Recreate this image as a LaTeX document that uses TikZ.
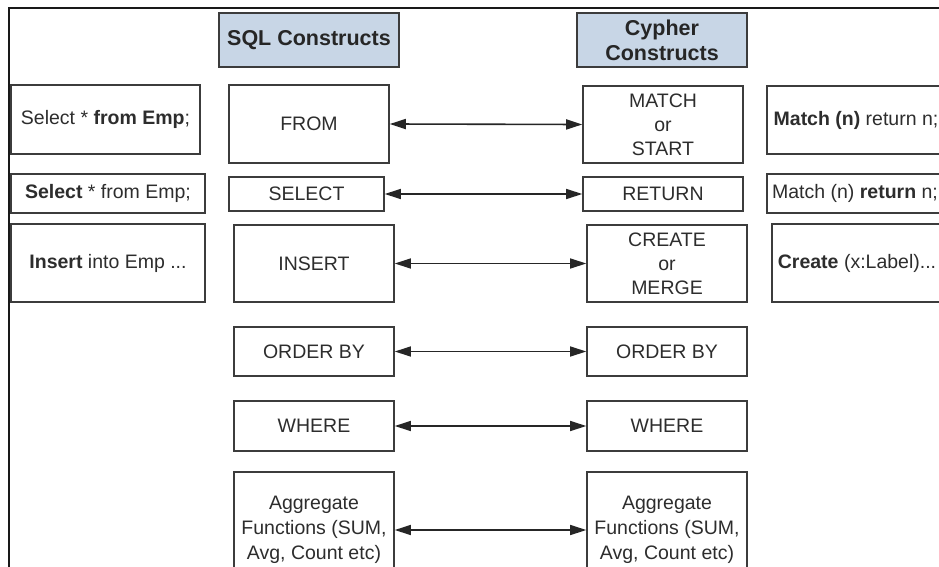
\documentclass[tikz,border=0pt]{standalone}
\usepackage{fontspec}
\setmainfont{Liberation Sans}
\usetikzlibrary{arrows.meta}
\definecolor{txt}{RGB}{45,45,45}
\definecolor{edge}{RGB}{60,60,60}
\definecolor{hdr}{RGB}{200,214,230}
\tikzset{
  box/.style={draw=edge, line width=1.6pt, rectangle, inner sep=2pt, text=txt,
    font=\fontsize{19.5}{24}\selectfont, align=center},
  hdrbox/.style={box, fill=hdr, font=\fontsize{21.5}{25}\selectfont\bfseries, text=black!85},
  aggbox/.style={box, inner sep=1pt, font=\fontsize{19.5}{25}\selectfont},
  conn/.style={draw=black!85, line width=1.6pt, {Triangle[length=16pt,width=10pt]}-{Triangle[length=16pt,width=10pt]}},
}
\begin{document}
\begin{tikzpicture}[x=1pt,y=-1pt]
\useasboundingbox (0,0) rectangle (939,567);
\clip (0,0) rectangle (939,567);
\fill[white] (0,0) rectangle (939,567);
% frame
\draw[line width=2pt, black!90] (8.5,580) -- (8.5,8.5) -- (950,8.5);
% headers
\node[hdrbox, minimum width=180, minimum height=54] (hsql) at (309,40) {SQL Constructs};
\node[hdrbox, minimum width=170, minimum height=54] (hcy) at (662,40) {Cypher\\Constructs};
% row 1
\node[box, minimum width=189, minimum height=69] (ex1) at (105.5,119.5) {Select * \textbf{from Emp};};
\node[box, minimum width=160, minimum height=78] (from) at (309,124) {FROM};
\node[box, minimum width=160, minimum height=77] (match) at (663,124.5) {MATCH\\or\\START};
\node[box, minimum width=178, minimum height=68] (cx1) at (856,120) {\textbf{Match (n)} return n;};
% row 2
\node[box, minimum width=194, minimum height=39] (ex2) at (108,193.5) {\textbf{Select} * from Emp;};
\node[box, minimum width=155, minimum height=34] (select) at (306.5,194) {SELECT};
\node[box, minimum width=160, minimum height=34] (return) at (663,194) {RETURN};
\node[box, minimum width=176, minimum height=39] (cx2) at (855,193.5) {Match (n) \textbf{return} n;};
% row 3
\node[box, minimum width=194, minimum height=78] (ex3) at (108,263) {\textbf{Insert} into Emp ...};
\node[box, minimum width=160, minimum height=77] (insert) at (314,263.5) {INSERT};
\node[box, minimum width=160, minimum height=77] (create) at (667,263.5) {CREATE\\or\\MERGE};
\node[box, minimum width=170, minimum height=78] (cx3) at (857,263) {\textbf{Create} (x:Label)...};
% row 4
\node[box, minimum width=160, minimum height=49] (ordl) at (314,351.5) {ORDER BY};
\node[box, minimum width=160, minimum height=49] (ordr) at (667,351.5) {ORDER BY};
% row 5
\node[box, minimum width=160, minimum height=50] (whl) at (314,426) {WHERE};
\node[box, minimum width=160, minimum height=50] (whr) at (667,426) {WHERE};
% row 6
\node[aggbox, minimum width=160, minimum height=116] (aggl) at (314,530) {Aggregate\\Functions (SUM,\\Avg, Count etc)};
\node[aggbox, minimum width=160, minimum height=116] (aggr) at (667,530) {Aggregate\\Functions (SUM,\\Avg, Count etc)};
% connectors
\draw[conn] (from.east) -- (match.west);
\draw[conn] (select.east) -- (return.west);
\draw[conn] (insert.east) -- (create.west);
\draw[conn] (ordl.east) -- (ordr.west);
\draw[conn] (whl.east) -- (whr.west);
\draw[conn] (aggl.east) -- (aggr.west);
\end{tikzpicture}
\end{document}
